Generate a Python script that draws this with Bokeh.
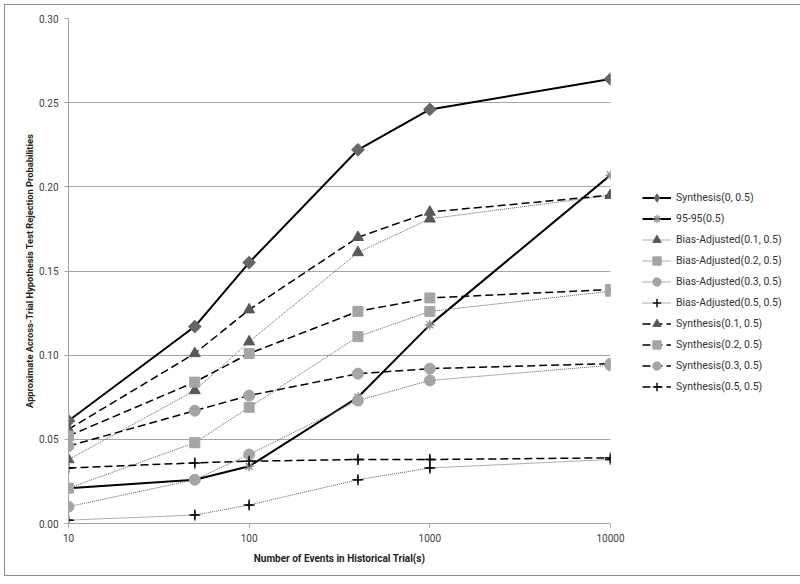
import math
from bokeh.plotting import figure
from bokeh.models import Legend, LegendItem, FixedTicker, NumeralTickFormatter, Range1d, ColumnDataSource
from bokeh.embed import file_html
from bokeh.resources import INLINE

events = [10, 50, 100, 400, 1000, 10000]
synth_0 = [0.061, 0.117, 0.155, 0.222, 0.246, 0.264]
ninety5 = [0.021, 0.026, 0.034, 0.075, 0.118, 0.207]
bias_01 = [0.038, 0.079, 0.108, 0.161, 0.181, 0.195]
bias_02 = [0.021, 0.048, 0.069, 0.111, 0.126, 0.138]
bias_03 = [0.010, 0.026, 0.041, 0.073, 0.085, 0.094]
bias_05 = [0.002, 0.005, 0.011, 0.026, 0.033, 0.038]
synth_01 = [0.056, 0.101, 0.127, 0.170, 0.185, 0.195]
synth_02 = [0.052, 0.084, 0.101, 0.126, 0.134, 0.139]
synth_03 = [0.046, 0.067, 0.076, 0.089, 0.092, 0.095]
synth_05 = [0.033, 0.036, 0.037, 0.038, 0.038, 0.039]

x_ticks = [10, 100, 1000, 10000]
y_ticks = [0.0, 0.05, 0.10, 0.15, 0.20, 0.25, 0.30]

FONT = "Roboto"

p = figure(x_axis_type="log",
           x_range=Range1d(10, 10000), y_range=Range1d(0, 0.30),
           output_backend="svg", toolbar_location=None,
           min_border_left=63, min_border_right=0, min_border_top=13, min_border_bottom=52)
p.frame_width = 542
p.frame_height = 505
p.outline_line_color = None
p.styles = {"border": "1.5px solid #8c8c8c", "box-sizing": "border-box",
            "margin-left": "4px", "margin-top": "4px"}

p.xgrid.visible = False
p.ygrid.grid_line_color = "#a6a6a6"
p.ygrid.grid_line_width = 1
p.ygrid.ticker = FixedTicker(ticks=y_ticks)

p.xaxis.ticker = FixedTicker(ticks=x_ticks, minor_ticks=[])
p.xaxis.formatter = NumeralTickFormatter(format="0")
p.yaxis.ticker = FixedTicker(ticks=y_ticks, minor_ticks=[])
p.yaxis.formatter = NumeralTickFormatter(format="0.00")
for ax in (p.xaxis[0], p.yaxis[0]):
    ax.axis_line_color = "#a6a6a6"
    ax.major_tick_line_color = "#a6a6a6"
    ax.major_tick_in = 0
    ax.major_tick_out = 4
    ax.minor_tick_line_color = None
    ax.major_label_text_font = FONT
    ax.major_label_text_font_size = "10px"
    ax.major_label_text_color = "#404040"
    ax.axis_label_text_font = FONT
    ax.axis_label_text_font_style = "bold"
    ax.axis_label_text_color = "#222222"
p.xaxis.axis_label = "Number of Events in Historical Trial(s)"
p.yaxis.axis_label = "Approximate Across-Trial Hypothesis Test Rejection Probabilities"
p.xaxis.axis_label_text_font_size = "10px"
p.yaxis.axis_label_text_font_size = "9.3px"
p.xaxis.major_label_standoff = 6
p.xaxis.axis_label_standoff = 8
p.yaxis.major_label_standoff = 6
p.yaxis.axis_label_standoff = 1

items = []

def series(label, ys, line_color, line_width, dash, marker, mcolor, size, angle=0.0, mwidth=1.0,
           lsize=6, lmarker=None):
    src = ColumnDataSource(dict(x=events, y=ys))
    ln = p.line("x", "y", source=src, line_color=line_color, line_width=line_width, line_dash=dash)
    if marker in ("cross", "asterisk"):
        kw = dict(line_color=mcolor, line_width=mwidth, fill_color=None)
    else:
        kw = dict(fill_color=mcolor, line_color=mcolor, line_width=1)
    # small copy (used as legend glyph), hidden under the full-size markers
    leg = p.scatter("x", "y", source=src, size=lsize, marker=lmarker or marker, **kw)
    p.scatter("x", "y", source=src, size=size, marker=marker, angle=angle, **kw)
    items.append(LegendItem(label=label, renderers=[ln, leg]))

DOT = "1 1"
DASH = "8 4"
series("Synthesis(0, 0.5)", synth_0, "#000000", 2, "solid", "square", "#666666", 9, angle=math.pi / 4,
       lsize=8, lmarker="diamond")
series("95-95(0.5)", ninety5, "#000000", 2, "solid", "asterisk", "#8c8c8c", 10, mwidth=1.2, lsize=7)
series("Bias-Adjusted(0.1, 0.5)", bias_01, "#5e5e5e", 1, DOT, "triangle", "#595959", 11, lsize=7)
series("Bias-Adjusted(0.2, 0.5)", bias_02, "#5e5e5e", 1, DOT, "square", "#a5a5a5", 10)
series("Bias-Adjusted(0.3, 0.5)", bias_03, "#5e5e5e", 1, DOT, "circle", "#a5a5a5", 11)
series("Bias-Adjusted(0.5, 0.5)", bias_05, "#5e5e5e", 1, DOT, "cross", "#111111", 11, mwidth=1.5, lsize=7)
series("Synthesis(0.1, 0.5)", synth_01, "#000000", 1.5, DASH, "triangle", "#595959", 11, lsize=7)
series("Synthesis(0.2, 0.5)", synth_02, "#000000", 1.5, DASH, "square", "#a5a5a5", 10)
series("Synthesis(0.3, 0.5)", synth_03, "#000000", 1.5, DASH, "circle", "#a5a5a5", 11)
series("Synthesis(0.5, 0.5)", synth_05, "#000000", 1.5, DASH, "cross", "#111111", 11, mwidth=1.5, lsize=7)

legend = Legend(items=items, location=(32, 126), orientation="vertical",
                glyph_width=29, glyph_height=21, label_height=21, spacing=0,
                padding=0, margin=0, label_standoff=5,
                label_text_font=FONT, label_text_font_size="10.5px", label_text_color="#333333",
                border_line_color=None, background_fill_alpha=0)
p.add_layout(legend, "right")

open("out.html", "w").write(file_html(p, INLINE))
